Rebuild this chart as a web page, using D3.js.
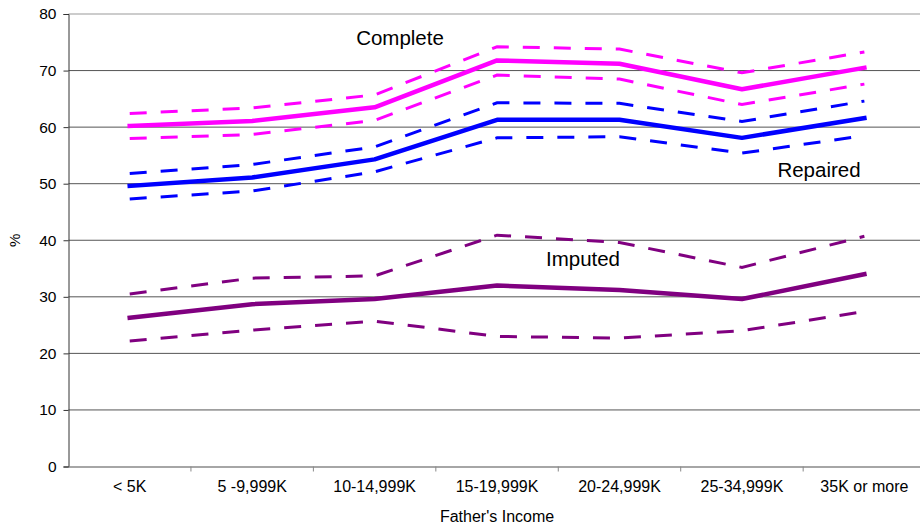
<!DOCTYPE html>
<html>
<head>
<meta charset="utf-8">
<script src="https://cdn.jsdelivr.net/npm/d3@7"></script>
<style>
  body { margin: 0; background: #fff; }
  text { font-family: "Liberation Sans", Arial, sans-serif; fill: #000; }
</style>
</head>
<body>
<div id="chart"></div>
<script>
const categories = ["< 5K", "5 -9,999K", "10-14,999K", "15-19,999K", "20-24,999K", "25-34,999K", "35K or more"];
const yTicks = [0, 10, 20, 30, 40, 50, 60, 70, 80];

const completeMid = [60.2, 61.1, 63.5, 71.8, 71.2, 66.7, 70.5];
const completeHigh = [62.4, 63.4, 65.7, 74.2, 73.8, 69.6, 73.3];
const completeLow = [58.0, 58.7, 61.2, 69.2, 68.5, 64.0, 67.6];

const repairedMid = [49.6, 51.1, 54.3, 61.3, 61.3, 58.1, 61.6];
const repairedHigh = [51.8, 53.4, 56.5, 64.3, 64.2, 61.0, 64.6];
const repairedLow = [47.3, 48.7, 52.1, 58.1, 58.3, 55.4, 58.5];

const imputedMid = [26.3, 28.7, 29.6, 32.0, 31.2, 29.6, 34.0];
const imputedHigh = [30.5, 33.3, 33.7, 40.9, 39.6, 35.2, 40.7];
const imputedLow = [22.2, 24.1, 25.7, 23.0, 22.7, 24.0, 27.4];

const series = [
  { name: "Complete", color: "#ff00ff", mid: completeMid, high: completeHigh, low: completeLow, label: [400, 45] },
  { name: "Repaired", color: "#0000ff", mid: repairedMid, high: repairedHigh, low: repairedLow, label: [819, 177] },
  { name: "Imputed", color: "#800080", mid: imputedMid, high: imputedHigh, low: imputedLow, label: [583, 266] }
];

const W = 920, H = 526;
const plotLeft = 68.5, plotRight = 925.6, plotTop = 14, plotBottom = 466.5;

const svg = d3.select("#chart").append("svg")
  .attr("width", W).attr("height", H);

const x = d3.scaleBand().domain(categories).range([plotLeft, plotRight]);
const y = d3.scaleLinear().domain([0, 80]).range([plotBottom, plotTop]);

// gridlines
svg.append("g").selectAll("line")
  .data(yTicks.filter(d => d > 0))
  .join("line")
  .attr("x1", plotLeft).attr("x2", plotRight)
  .attr("y1", d => y(d)).attr("y2", d => y(d))
  .attr("stroke", d => d === 80 ? "#999" : "#555")
  .attr("stroke-width", 1);

// y axis
const yAxis = svg.append("g")
  .attr("transform", `translate(${plotLeft},0)`)
  .call(d3.axisLeft(y).tickValues(yTicks).tickSize(5).tickPadding(7));
yAxis.select(".domain").attr("stroke", "#333");
yAxis.selectAll(".tick line").attr("stroke", "#333");
yAxis.selectAll(".tick text").attr("font-size", 15.5).attr("fill", "#000")
  .attr("font-family", "Liberation Sans, Arial, sans-serif");

// x axis
const xAxis = svg.append("g")
  .attr("transform", `translate(0,${plotBottom})`)
  .call(d3.axisBottom(x).tickSize(0).tickPadding(14));
xAxis.select(".domain").attr("stroke", "#888").attr("stroke-width", 1.5);
xAxis.selectAll(".tick text").attr("font-size", 16).attr("fill", "#000")
  .attr("font-family", "Liberation Sans, Arial, sans-serif");
svg.append("g").selectAll("line")
  .data(categories.slice(1))
  .join("line")
  .attr("x1", d => x(d)).attr("x2", d => x(d))
  .attr("y1", plotBottom).attr("y2", plotBottom + 5)
  .attr("stroke", "#888");

// axis titles
svg.append("text")
  .attr("x", (plotLeft + plotRight) / 2).attr("y", 522)
  .attr("text-anchor", "middle").attr("font-size", 16)
  .text("Father's Income");
svg.append("text")
  .attr("transform", `translate(20,${(plotTop + plotBottom) / 2}) rotate(-90)`)
  .attr("text-anchor", "middle").attr("font-size", 15)
  .text("%");

const line = d3.line()
  .x((d, i) => x(categories[i]) + x.bandwidth() / 2)
  .y(d => y(d));

series.forEach(s => {
  const g = svg.append("g");
  [s.high, s.low].forEach(vals => {
    g.append("path")
      .attr("d", line(vals))
      .attr("fill", "none")
      .attr("stroke", s.color)
      .attr("stroke-width", 3)
      .attr("stroke-dasharray", "17,14");
  });
  g.append("path")
    .attr("d", line(s.mid))
    .attr("fill", "none")
    .attr("stroke", s.color)
    .attr("stroke-width", 4.5)
    .attr("stroke-linejoin", "round")
    .attr("stroke-linecap", "square");
  svg.append("text")
    .attr("x", s.label[0]).attr("y", s.label[1])
    .attr("text-anchor", "middle").attr("font-size", 20.5)
    .text(s.name);
});
</script>
</body>
</html>
